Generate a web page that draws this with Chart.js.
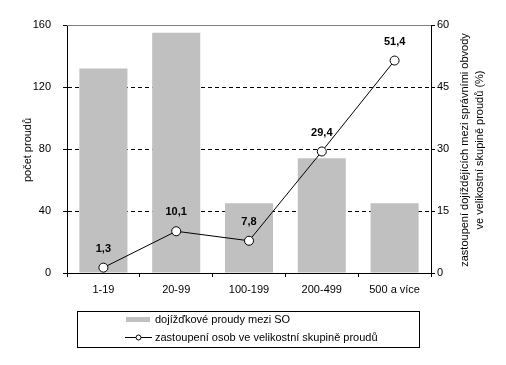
<!DOCTYPE html>
<html>
<head>
<meta charset="utf-8">
<script src="https://cdn.jsdelivr.net/npm/chart.js@4"></script>
<style>
  html, body { margin: 0; padding: 0; background: #fff; }
  #wrap { width: 506px; height: 365px; }
</style>
</head>
<body>
<div id="wrap"><canvas id="myChart" width="506" height="365"></canvas></div>
<script>
const categories = ["1-19", "20-99", "100-199", "200-499", "500 a více"];
const flowCounts = [132, 155, 45, 74, 45];
const personShares = [1.3, 10.1, 7.8, 29.4, 51.4];
const leftTicks = [0, 40, 80, 120, 160];
const rightTicks = [0, 15, 30, 45, 60];
const barLabel = "dojížďkové proudy mezi SO";
const lineLabel = "zastoupení osob ve velikostní skupině proudů";
const leftTitle = "počet proudů";
const rightTitle = ["zastoupení dojíždějících mezi správními obvody", "ve velikostní skupině proudů (%)"];

const FONT = "'Liberation Sans', Arial, sans-serif";
Chart.defaults.font.family = FONT;
Chart.defaults.font.size = 11;
Chart.defaults.color = "#000";

// labels above points, axis titles, outlined legend box
const extras = {
    id: "extras",
    afterDraw(chart) {
        const ctx = chart.ctx;
        const area = chart.chartArea;
        ctx.save();

        // grey top border of plot area
        ctx.strokeStyle = "#808080";
        ctx.lineWidth = 1;
        ctx.beginPath();
        ctx.moveTo(area.left, Math.round(area.top) + 0.5);
        ctx.lineTo(area.right, Math.round(area.top) + 0.5);
        ctx.stroke();

        // value labels
        const meta = chart.getDatasetMeta(1);
        ctx.font = "bold 11px " + FONT;
        ctx.fillStyle = "#000";
        ctx.textAlign = "center";
        ctx.textBaseline = "middle";
        meta.data.forEach((pt, i) => {
            ctx.fillText(personShares[i].toFixed(1).replace(".", ","), pt.x, pt.y - 19);
        });

        // axis titles
        ctx.font = "11px " + FONT;
        ctx.save();
        ctx.translate(28, 150);
        ctx.rotate(-Math.PI / 2);
        ctx.fillText(leftTitle, 0, 0);
        ctx.restore();
        ctx.save();
        ctx.translate(465, 150);
        ctx.rotate(-Math.PI / 2);
        ctx.fillText(rightTitle[0], 0, 0);
        ctx.fillText(rightTitle[1], 0, 15);
        ctx.restore();

        // legend
        ctx.strokeStyle = "#000";
        ctx.strokeRect(77.5, 311.5, 342, 36);
        ctx.fillStyle = "#c0c0c0";
        ctx.fillRect(126, 317, 24, 5);
        ctx.strokeStyle = "#000";
        ctx.beginPath();
        ctx.moveTo(125, 337.5);
        ctx.lineTo(152, 337.5);
        ctx.stroke();
        ctx.beginPath();
        ctx.arc(138.5, 337.5, 2.5, 0, Math.PI * 2);
        ctx.fillStyle = "#fff";
        ctx.fill();
        ctx.stroke();
        ctx.fillStyle = "#000";
        ctx.textAlign = "left";
        ctx.fillText(chart.data.datasets[0].label, 155, 320);
        ctx.fillText(chart.data.datasets[1].label, 155, 338);
        ctx.restore();
    }
};

new Chart("myChart", {
    data: {
        labels: categories,
        datasets: [{
            type: "bar",
            label: barLabel,
            data: flowCounts,
            backgroundColor: "#c0c0c0",
            yAxisID: "y",
            barPercentage: 0.66,
            categoryPercentage: 1,
            order: 2
        }, {
            type: "line",
            label: lineLabel,
            data: personShares,
            borderColor: "#000",
            borderWidth: 1,
            pointRadius: 4.5,
            pointBackgroundColor: "#fff",
            pointBorderColor: "#000",
            pointBorderWidth: 1,
            yAxisID: "y1",
            order: 1
        }]
    },
    options: {
        responsive: false,
        animation: false,
        layout: { padding: { top: 25, bottom: 67, left: 0, right: 0 } },
        plugins: {
            legend: { display: false },
            tooltip: { enabled: false }
        },
        scales: {
            x: {
                afterFit: s => { s.height = 25; },
                grid: {
                    offset: true,
                    drawOnChartArea: false,
                    tickLength: 4,
                    tickColor: "#000"
                },
                border: { color: "#000" },
                ticks: { padding: 6 }
            },
            y: {
                position: "left",
                min: 0,
                max: 160,
                afterFit: s => { s.width = 67; },
                afterBuildTicks: s => { s.ticks = leftTicks.map(v => ({ value: v })); },
                grid: {
                    color: c => (c.tick && (c.tick.value === 0 || c.tick.value === 160)) ? "rgba(0,0,0,0)" : "#000",
                    tickColor: "#000",
                    tickLength: 4,
                    tickBorderDash: [0, 0]
                },
                border: { color: "#000", dash: [4, 3] },
                ticks: { padding: 12 }
            },
            y1: {
                position: "right",
                min: 0,
                max: 60,
                afterFit: s => { s.width = 75; },
                afterBuildTicks: s => { s.ticks = rightTicks.map(v => ({ value: v })); },
                grid: {
                    drawOnChartArea: false,
                    tickColor: "#000",
                    tickLength: 4
                },
                border: { color: "#000" },
                ticks: { padding: 2 }
            }
        }
    },
    plugins: [extras]
});
</script>
</body>
</html>
